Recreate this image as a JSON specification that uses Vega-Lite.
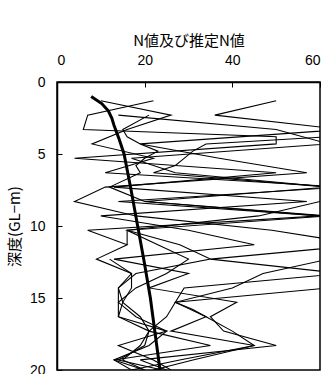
{
  "$schema": "https://vega.github.io/schema/vega-lite/v6.json",
  "width": 263,
  "height": 288,
  "autosize": {"type": "none"},
  "padding": {"left": 57, "top": 82, "right": 6, "bottom": 4},
  "config": {
    "view": {"stroke": "black", "strokeWidth": 1.5},
    "axis": {
      "domainColor": "black", "domainWidth": 1.5, "tickColor": "black", "tickWidth": 1,
      "labelFont": "Liberation Sans", "labelFontSize": 14, "labelColor": "black",
      "titleFont": "Noto Sans CJK JP", "titleFontSize": 15, "titleFontWeight": "normal", "titleColor": "black",
      "grid": false
    }
  },
  "datasets": {
    "obs": [
      {"s":"A","d":1.3,"n":10},{"s":"A","d":2.3,"n":26},{"s":"A","d":3.3,"n":16},{"s":"A","d":4.3,"n":8},{"s":"A","d":5.3,"n":22},{"s":"A","d":6.3,"n":11},{"s":"A","d":7.3,"n":65},{"s":"A","d":8.3,"n":14},{"s":"A","d":9.3,"n":60},{"s":"A","d":10.3,"n":7},{"s":"A","d":11.3,"n":16},{"s":"A","d":12.3,"n":9},{"s":"A","d":13.3,"n":17},{"s":"A","d":14.3,"n":14},{"s":"A","d":15.3,"n":14},{"s":"A","d":16.3,"n":14},{"s":"A","d":17.3,"n":21},{"s":"A","d":18.3,"n":35},{"s":"A","d":19.3,"n":13},{"s":"A","d":20,"n":20},
      {"s":"B","d":1.3,"n":22},{"s":"B","d":2.3,"n":7},{"s":"B","d":3.3,"n":6},{"s":"B","d":3.8,"n":50},{"s":"B","d":4.3,"n":50},{"s":"B","d":5.3,"n":4},{"s":"B","d":6.3,"n":50},{"s":"B","d":7.3,"n":13},{"s":"B","d":8.3,"n":57},{"s":"B","d":9.3,"n":10},{"s":"B","d":10.3,"n":30},{"s":"B","d":11.3,"n":45},{"s":"B","d":12.3,"n":13},{"s":"B","d":13.3,"n":30},{"s":"B","d":14.3,"n":21},{"s":"B","d":15.3,"n":41},{"s":"B","d":16.3,"n":35},{"s":"B","d":17.3,"n":38},{"s":"B","d":18.3,"n":50},{"s":"B","d":19.3,"n":19},{"s":"B","d":20,"n":25},
      {"s":"C","d":1.3,"n":50},{"s":"C","d":2.3,"n":36},{"s":"C","d":3.3,"n":65},{"s":"C","d":4.3,"n":19},{"s":"C","d":5.3,"n":37},{"s":"C","d":6.3,"n":57},{"s":"C","d":7.3,"n":11},{"s":"C","d":8.3,"n":4},{"s":"C","d":9.3,"n":18},{"s":"C","d":10.3,"n":49},{"s":"C","d":11.3,"n":70},{"s":"C","d":12.3,"n":35},{"s":"C","d":13.3,"n":65},{"s":"C","d":14.3,"n":29},{"s":"C","d":15.3,"n":27},{"s":"C","d":16.3,"n":34},{"s":"C","d":17.3,"n":26},{"s":"C","d":18.3,"n":45},{"s":"C","d":19.3,"n":31},{"s":"C","d":20,"n":22},
      {"s":"D","d":2.3,"n":14},{"s":"D","d":3.3,"n":50},{"s":"D","d":4.3,"n":62},{"s":"D","d":5.3,"n":17},{"s":"D","d":6.3,"n":27},{"s":"D","d":7.3,"n":62},{"s":"D","d":8.3,"n":20},{"s":"D","d":9.3,"n":62},{"s":"D","d":10.3,"n":16},{"s":"D","d":11.3,"n":23},{"s":"D","d":12.3,"n":30},{"s":"D","d":13.3,"n":25},{"s":"D","d":14.3,"n":18},{"s":"D","d":15.3,"n":14},{"s":"D","d":16.3,"n":18},{"s":"D","d":17.3,"n":25},{"s":"D","d":18.3,"n":21},{"s":"D","d":19.3,"n":13},{"s":"D","d":20,"n":17},
      {"s":"E","d":2.3,"n":21},{"s":"E","d":3.3,"n":15},{"s":"E","d":3.8,"n":16},{"s":"E","d":4.3,"n":19},{"s":"E","d":4.8,"n":23},{"s":"E","d":5.3,"n":20},{"s":"E","d":5.8,"n":18},{"s":"E","d":6.3,"n":19},{"s":"E","d":7.3,"n":12},{"s":"E","d":8.3,"n":20},{"s":"E","d":9.3,"n":60},{"s":"E","d":10.3,"n":62},
      {"s":"F","d":3.8,"n":62},{"s":"F","d":4.3,"n":34},{"s":"F","d":4.8,"n":31},{"s":"F","d":5.3,"n":29},{"s":"F","d":5.8,"n":27},{"s":"F","d":6.3,"n":22},{"s":"F","d":7.3,"n":62},{"s":"F","d":8.3,"n":60},{"s":"F","d":9.3,"n":46},{"s":"F","d":10.3,"n":16},{"s":"F","d":11.3,"n":16},
      {"s":"G","d":10.3,"n":16},{"s":"G","d":11.3,"n":28},{"s":"G","d":12.3,"n":35},{"s":"G","d":13.3,"n":18},{"s":"G","d":14.3,"n":14},{"s":"G","d":15.3,"n":15},{"s":"G","d":16.3,"n":14},{"s":"G","d":17.3,"n":25},{"s":"G","d":18.3,"n":14},{"s":"G","d":19.3,"n":22},{"s":"G","d":20,"n":26},
      {"s":"H","d":12.3,"n":12},{"s":"H","d":13.3,"n":17},{"s":"H","d":14.3,"n":17},{"s":"H","d":15.3,"n":15},{"s":"H","d":16.3,"n":19},{"s":"H","d":17.3,"n":21},{"s":"H","d":18.3,"n":19},{"s":"H","d":19.3,"n":15},{"s":"H","d":20,"n":20},
      {"s":"I","d":12.3,"n":62},{"s":"I","d":13.3,"n":47},{"s":"I","d":14.3,"n":40},{"s":"I","d":15.3,"n":27},{"s":"I","d":15.8,"n":31},{"s":"I","d":16.3,"n":34},{"s":"I","d":17.3,"n":40},{"s":"I","d":18.3,"n":45},{"s":"I","d":19.3,"n":28},{"s":"I","d":20,"n":17},
      {"s":"J","d":14.3,"n":62},{"s":"J","d":15.3,"n":27},{"s":"J","d":16.3,"n":25},{"s":"J","d":17.3,"n":21},{"s":"J","d":18.3,"n":20},{"s":"J","d":19.3,"n":14},{"s":"J","d":20,"n":24}
    ],
    "est": [
      {"d":1,"n":7.8},{"d":1.5,"n":10.2},{"d":2,"n":11.7},{"d":2.5,"n":12.5},{"d":3,"n":13},{"d":4,"n":14.2},{"d":5,"n":15.3},{"d":7.5,"n":16.9},{"d":10,"n":18.4},{"d":12.5,"n":19.9},{"d":15,"n":21.3},{"d":17.5,"n":22.4},{"d":20,"n":23.5}
    ]
  },
  "layer": [
    {
      "data": {"name": "obs"},
      "mark": {"type": "line", "color": "black", "strokeWidth": 1.1, "clip": true},
      "encoding": {
        "x": {"field": "n", "type": "quantitative", "scale": {"domain": [0, 60], "nice": false},
              "axis": {"orient": "top", "title": "N値及び推定N値", "values": [0, 20, 40, 60], "tickSize": -5, "labelPadding": 20, "titlePadding": 5}},
        "y": {"field": "d", "type": "quantitative", "scale": {"domain": [0, 20], "reverse": true, "nice": false},
              "axis": {"orient": "left", "title": "深度(GL−m)", "values": [0, 5, 10, 15, 20], "tickSize": -5, "labelPadding": 17, "titlePadding": 7}},
        "detail": {"field": "s"},
        "order": {"field": "d", "type": "quantitative"}
      }
    },
    {
      "data": {"name": "est"},
      "mark": {"type": "line", "color": "black", "strokeWidth": 3, "clip": true},
      "encoding": {
        "x": {"field": "n", "type": "quantitative"},
        "y": {"field": "d", "type": "quantitative"},
        "order": {"field": "d", "type": "quantitative"}
      }
    }
  ]
}
